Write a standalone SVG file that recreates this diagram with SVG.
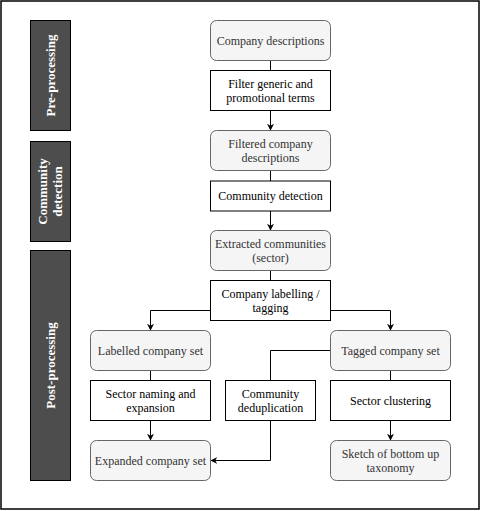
<svg xmlns="http://www.w3.org/2000/svg" width="481" height="511" viewBox="0 0 481 511">
<defs>
<marker id="arr" viewBox="0 0 10 10" refX="9" refY="5" markerWidth="7" markerHeight="7" markerUnits="userSpaceOnUse" orient="auto">
<path d="M0,0 L10,5 L0,10 L3,5 Z" fill="#000"/>
</marker>
<style>
.frame{fill:#fff;stroke:#000;stroke-width:1.5}
.band{fill:#4d4d4d;stroke:#000;stroke-width:1}
.band-t{font-family:"Liberation Serif",serif;font-size:13px;font-weight:bold;fill:#fff;text-anchor:middle}
.data{fill:#f5f5f5;stroke:#666;stroke-width:1}
.proc{fill:#fff;stroke:#000;stroke-width:1}
.t{font-family:"Liberation Serif",serif;font-size:12px;text-anchor:middle}
.td{fill:#333}
.tp{fill:#000}
.edge{fill:none;stroke:#000;stroke-width:1}
</style>
</defs>
<rect class="frame" x="1" y="1" width="478" height="508"/>
<g id="band-pre">
<rect class="band" x="30.5" y="20.5" width="40" height="110"/>
<text class="band-t" transform="translate(55,75.5) rotate(-90)">Pre-processing</text>
</g>
<g id="band-community">
<rect class="band" x="30.5" y="141.5" width="40" height="100"/>
<text class="band-t" transform="translate(47,191.5) rotate(-90)">Community</text>
<text class="band-t" transform="translate(62,191.5) rotate(-90)">detection</text>
</g>
<g id="band-post">
<rect class="band" x="30.5" y="250.5" width="40" height="230"/>
<text class="band-t" transform="translate(55,365.5) rotate(-90)">Post-processing</text>
</g>
<g id="edges">
<path class="edge" d="M270.5,60.5 V70.5"/>
<path class="edge" d="M270.5,110.5 V130" marker-end="url(#arr)"/>
<path class="edge" d="M270.5,170.5 V181"/>
<path class="edge" d="M270.5,211 V230" marker-end="url(#arr)"/>
<path class="edge" d="M270.5,270.5 V280.5"/>
<path class="edge" d="M210.5,310.5 H150.5 V330" marker-end="url(#arr)"/>
<path class="edge" d="M330.5,310.5 H390.5 V330" marker-end="url(#arr)"/>
<path class="edge" d="M150.5,370.5 V380.5"/>
<path class="edge" d="M330.5,350.5 H270.5 V380.5"/>
<path class="edge" d="M390.5,370.5 V380.5"/>
<path class="edge" d="M150.5,420.5 V440" marker-end="url(#arr)"/>
<path class="edge" d="M270.5,420.5 V460.5 H211" marker-end="url(#arr)"/>
<path class="edge" d="M390.5,420.5 V440" marker-end="url(#arr)"/>
</g>
<g id="company-descriptions">
<rect class="data" x="210.5" y="20.5" width="120" height="40" rx="6"/>
<text class="t td" x="270.5" y="45">Company descriptions</text>
</g>
<g id="filter-terms">
<rect class="proc" x="210.5" y="70.5" width="120" height="40"/>
<text class="t tp" x="270.5" y="88">Filter generic and</text>
<text class="t tp" x="270.5" y="102">promotional terms</text>
</g>
<g id="filtered-descriptions">
<rect class="data" x="210.5" y="130.5" width="120" height="40" rx="6"/>
<text class="t td" x="270.5" y="148">Filtered company</text>
<text class="t td" x="270.5" y="162">descriptions</text>
</g>
<g id="community-detection">
<rect class="proc" x="210.5" y="181" width="120" height="30"/>
<text class="t tp" x="270.5" y="200">Community detection</text>
</g>
<g id="extracted-communities">
<rect class="data" x="210.5" y="230.5" width="120" height="40" rx="6"/>
<text class="t td" x="270.5" y="248">Extracted communities</text>
<text class="t td" x="270.5" y="262">(sector)</text>
</g>
<g id="company-labelling">
<rect class="proc" x="210.5" y="280.5" width="120" height="40"/>
<text class="t tp" x="270.5" y="298">Company labelling /</text>
<text class="t tp" x="270.5" y="312">tagging</text>
</g>
<g id="labelled-set">
<rect class="data" x="90.5" y="330.5" width="120" height="40" rx="6"/>
<text class="t td" x="150.5" y="355">Labelled company set</text>
</g>
<g id="tagged-set">
<rect class="data" x="330.5" y="330.5" width="120" height="40" rx="6"/>
<text class="t td" x="390.5" y="355">Tagged company set</text>
</g>
<g id="sector-naming">
<rect class="proc" x="90.5" y="380.5" width="120" height="40"/>
<text class="t tp" x="150.5" y="398">Sector naming and</text>
<text class="t tp" x="150.5" y="412">expansion</text>
</g>
<g id="community-dedup">
<rect class="proc" x="225.5" y="380.5" width="90" height="40"/>
<text class="t tp" x="270.5" y="398">Community</text>
<text class="t tp" x="270.5" y="412">deduplication</text>
</g>
<g id="sector-clustering">
<rect class="proc" x="330.5" y="380.5" width="120" height="40"/>
<text class="t tp" x="390.5" y="405">Sector clustering</text>
</g>
<g id="expanded-set">
<rect class="data" x="90.5" y="440.5" width="120" height="40" rx="6"/>
<text class="t td" x="150.5" y="465">Expanded company set</text>
</g>
<g id="taxonomy-sketch">
<rect class="data" x="330.5" y="440.5" width="120" height="40" rx="6"/>
<text class="t td" x="390.5" y="458">Sketch of bottom up</text>
<text class="t td" x="390.5" y="472">taxonomy</text>
</g>
</svg>
